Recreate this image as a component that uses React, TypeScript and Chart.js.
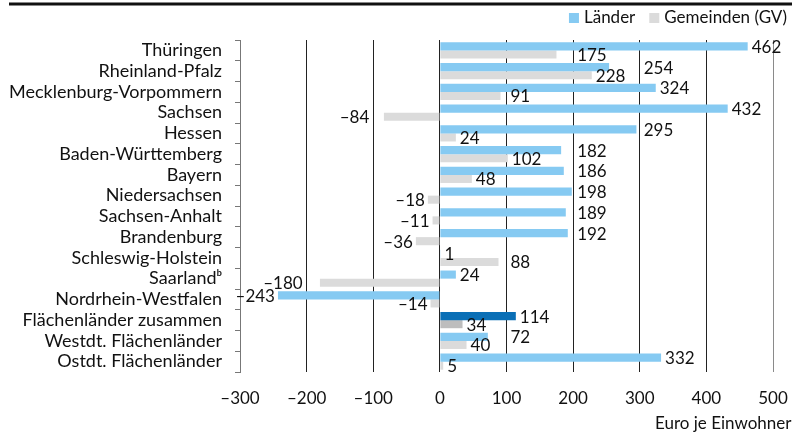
import React, { useEffect, useRef } from "react";
import { Chart, registerables } from "chart.js";

Chart.register(...registerables);

const categories = [
  "Thüringen",
  "Rheinland-Pfalz",
  "Mecklenburg-Vorpommern",
  "Sachsen",
  "Hessen",
  "Baden-Württemberg",
  "Bayern",
  "Niedersachsen",
  "Sachsen-Anhalt",
  "Brandenburg",
  "Schleswig-Holstein",
  "Saarlandᵇ",
  "Nordrhein-Westfalen",
  "Flächenländer zusammen",
  "Westdt. Flächenländer",
  "Ostdt. Flächenländer",
];
const laender = [462, 254, 324, 432, 295, 182, 186, 198, 189, 192, 1, 24, -243, 114, 72, 332];
const gemeinden = [175, 228, 91, -84, 24, 102, 48, -18, -11, -36, 88, -180, -14, 34, 40, 5];
const seriesNames = ["Länder", "Gemeinden (GV)"];
const highlightCategory = "Flächenländer zusammen";
const xMin = -300;
const xMax = 500;
const xStep = 100;
const axisTitle = "Euro je Einwohner";

const FONT = "Lato, 'Noto Sans', sans-serif";
const FS = 18;
const FS_NUM = 17;
const BLUE = "#86CAF2";
const BLUE_DARK = "#0A6FB6";
const GRAY = "#DBDBDB";
const GRAY_DARK = "#BDBDBD";

const fmt = (v: number) => (v < 0 ? "–" + Math.abs(v) : String(v));

const extrasPlugin = {
  id: "extras",
  afterDraw(chart: any) {
    const ctx = chart.ctx;
    const area = chart.chartArea;
    const xs = chart.scales.x;
    ctx.save();
    // top rule
    ctx.strokeStyle = "#111";
    ctx.lineWidth = 3;
    ctx.beginPath();
    ctx.moveTo(1, 4);
    ctx.lineTo(chart.width, 4);
    ctx.stroke();

    // data labels (avoid interior grid lines)
    ctx.font = `${FS_NUM}px ${FONT}`;
    ctx.fillStyle = "#111";
    ctx.textBaseline = "middle";
    const grids = xs.ticks
      .filter((t: any) => t.value !== xMin && t.value !== xMax)
      .map((t: any) => xs.getPixelForValue(t.value));
    chart.data.datasets.forEach((ds: any, di: number) => {
      const meta = chart.getDatasetMeta(di);
      meta.data.forEach((bar: any, i: number) => {
        const v = ds.data[i];
        const txt = fmt(v);
        const w = ctx.measureText(txt).width;
        const y = bar.y + 1;
        if (v >= 0) {
          let x0 = bar.x + 4;
          for (const g of grids) {
            if (g > bar.x + 0.5 && g < x0 + w + 1) x0 = Math.max(x0, g + 4);
          }
          ctx.textAlign = "left";
          ctx.fillText(txt, x0, y);
        } else {
          let x1 = bar.x - 3;
          for (const g of grids) {
            if (g < bar.x - 0.5 && g > x1 - w - 1) x1 = Math.min(x1, g - 4);
          }
          ctx.textAlign = "right";
          ctx.fillText(txt, x1, y);
        }
      });
    });

    // axis title
    ctx.textAlign = "left";
    ctx.font = `${FS_NUM}px ${FONT}`;
    ctx.fillText(axisTitle, area.right - 118, area.bottom + 52);

    // legend
    const colors = [BLUE, GRAY];
    let right = chart.width - 5;
    const items = seriesNames.map((n, i) => ({ n, c: colors[i] }));
    for (let i = items.length - 1; i >= 0; i--) {
      const tw = ctx.measureText(items[i].n).width;
      const tx = right - tw;
      ctx.fillStyle = "#111";
      ctx.fillText(items[i].n, tx, 18);
      ctx.fillStyle = items[i].c;
      ctx.fillRect(tx - 15, 13, 10, 10);
      right = tx - 15 - 14;
    }
    ctx.restore();
  },
};

export default function App() {
  const ref = useRef<HTMLCanvasElement | null>(null);
  useEffect(() => {
    if (!ref.current) return;
    document.body.style.margin = "0";
    const hi = categories.indexOf(highlightCategory);
    const chart = new Chart(ref.current, {
      type: "bar",
      data: {
        labels: categories,
        datasets: [
          {
            label: seriesNames[0],
            data: laender,
            backgroundColor: categories.map((_, i) => (i === hi ? BLUE_DARK : BLUE)),
            categoryPercentage: 0.78,
            barPercentage: 1.0,
          },
          {
            label: seriesNames[1],
            data: gemeinden,
            backgroundColor: categories.map((_, i) => (i === hi ? GRAY_DARK : GRAY)),
            categoryPercentage: 0.78,
            barPercentage: 1.0,
          },
        ],
      },
      options: {
        indexAxis: "y",
        animation: false,
        responsive: false,
        layout: { padding: { top: 40, right: 19, left: 0, bottom: 0 } },
        plugins: { legend: { display: false }, tooltip: { enabled: false } },
        scales: {
          x: {
            min: xMin,
            max: xMax,
            ticks: {
              stepSize: xStep,
              callback: (v: any) => fmt(Number(v)),
              color: "#111",
              font: { family: FONT, size: FS_NUM },
              padding: 16,
            },
            grid: {
              drawTicks: false,
              lineWidth: 1,
              color: (c: any) =>
                c.tick && c.tick.value === xMin
                  ? "rgba(0,0,0,0)"
                  : c.tick && c.tick.value === xMax
                  ? "#8a8a8a"
                  : "#222",
            },
            border: { display: false },
            afterFit: (s: any) => {
              s.height = 65;
              s.paddingLeft = 0;
              s.paddingRight = 0;
            },
          },
          y: {
            ticks: {
              color: "#111",
              font: { family: FONT, size: FS },
              padding: 13,
              autoSkip: false,
            },
            grid: {
              drawOnChartArea: false,
              drawTicks: true,
              tickLength: 5,
              color: "#777",
            },
            border: { display: true, color: "#777", width: 1 },
            afterFit: (s: any) => {
              s.width = 232;
              s.paddingTop = 0;
              s.paddingBottom = 0;
            },
          },
        },
      },
      plugins: [extrasPlugin],
    } as any);
    return () => chart.destroy();
  }, []);
  return (
    <div style={{ width: 792, height: 437, paddingLeft: 8, boxSizing: "border-box", overflow: "hidden" }}>
      <canvas ref={ref} width={784} height={437} style={{ display: "block" }} />
    </div>
  );
}
